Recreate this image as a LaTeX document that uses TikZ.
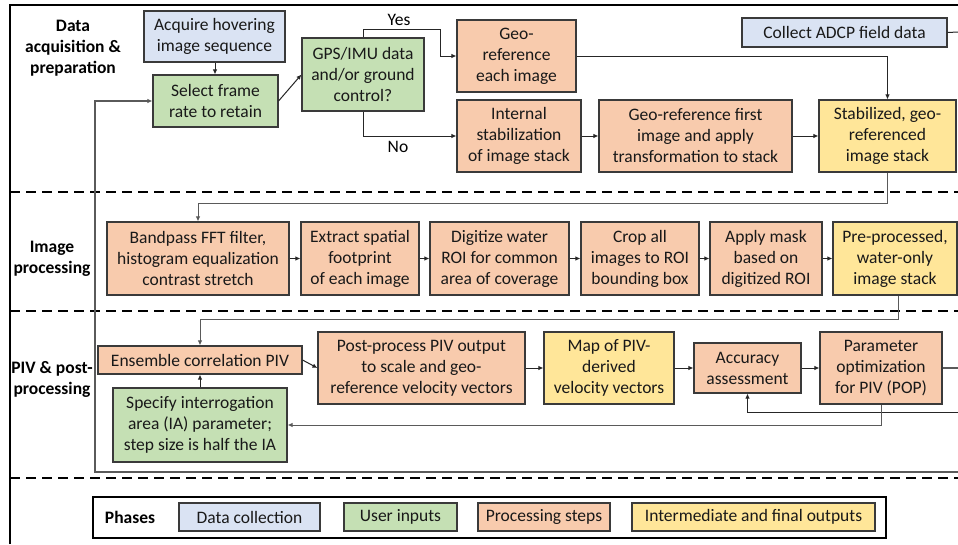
\documentclass[tikz,border=0pt]{standalone}
\usepackage{fontspec}
\setmainfont{Carlito}
\usetikzlibrary{arrows.meta}
\definecolor{cblue}{HTML}{DAE3F3}
\definecolor{cgreen}{HTML}{C5E0B4}
\definecolor{corange}{HTML}{F8CBAD}
\definecolor{cyellow}{HTML}{FFE699}
\definecolor{cedge}{HTML}{3A3A3A}
\definecolor{cline}{HTML}{5A5A5A}
\newcommand\mfnt{\fontsize{17.5}{21}\selectfont}
\newcommand\boxnode[7]{\node[pbox, fill=#6, minimum width={(#4-#2)*1pt}, minimum height={(#5-#3)*1pt}] (#1) at ({(#2+#4)/2},{(#3+#5)/2}) {#7};}
\begin{document}
\begin{tikzpicture}[x=1pt,y=-1pt,
  pbox/.style={draw=cedge, line width=1.1pt, inner sep=0pt, align=center, font=\mfnt, text=black!90},
  sect/.style={align=center, font=\mfnt\bfseries, inner sep=0pt},
  lbl/.style={font=\mfnt, inner sep=0pt},
  arr/.style={draw=black!85, line width=1pt, -{Latex[length=5pt,width=4.5pt]}},
  ln/.style={draw=black!85, line width=1pt},
  gln/.style={draw=cline, line width=1.3pt},
  sep/.style={line width=2.3pt, dash pattern=on 10pt off 6pt}]
\useasboundingbox (0,0) rectangle (958,544);
\fill[white] (0,0) rectangle (958,544);
% outer frame
\draw[line width=1.5pt] (10,544) -- (10,5) -- (958,5);
% separators
\draw[sep] (10,192) -- (958,192);
\draw[sep] (10,311) -- (958,311);
\draw[sep] (10,478) -- (958,478);
% section labels
\node[sect] (s1) at (73,48) {Data\\acquisition \&\\preparation};
\node[sect] (s2) at (52,259) {Image\\processing};
\node[sect] (s3) at (52,379) {PIV \& post-\\processing};
% row 1
\boxnode{acq}{144}{11}{285}{62}{cblue}{Acquire hovering\\image sequence}
\boxnode{sel}{153}{75}{278}{127}{cgreen}{Select frame\\rate to retain}
\boxnode{gps}{302}{38}{424}{111}{cgreen}{GPS/IMU data\\and/or ground\\control?}
\boxnode{geoa}{457}{20}{576}{92}{corange}{Geo-\\reference\\each image}
\boxnode{intl}{457}{100}{581}{172}{corange}{Internal\\stabilization\\of image stack}
\boxnode{geob}{599}{100}{792}{172}{corange}{Geo-reference first\\image and apply\\transformation to stack}
\boxnode{stab}{819}{100}{956}{172}{cyellow}{Stabilized, geo-\\referenced\\image stack}
\boxnode{adcp}{742}{18}{947}{47}{cblue}{Collect ADCP field data}
% row 2
\boxnode{band}{107}{222}{289}{295}{corange}{Bandpass FFT filter,\\histogram equalization\\contrast stretch}
\boxnode{extr}{301}{222}{419}{295}{corange}{Extract spatial\\footprint\\of each image}
\boxnode{digi}{430}{222}{569}{295}{corange}{Digitize water\\ROI for common\\area of coverage}
\boxnode{crop}{581}{222}{699}{295}{corange}{Crop all\\images to ROI\\bounding box}
\boxnode{mask}{710}{222}{822}{295}{corange}{Apply mask\\based on\\digitized ROI}
\boxnode{prep}{833}{222}{957}{295}{cyellow}{Pre-processed,\\water-only\\image stack}
% row 3
\boxnode{ens}{98}{346}{302}{374}{corange}{Ensemble correlation PIV}
\boxnode{spec}{113}{388}{287}{462}{cgreen}{Specify interrogation\\area (IA) parameter;\\step size is half the IA}
\boxnode{post}{318}{332}{525}{404}{corange}{Post-process PIV output\\to scale and geo-\\reference velocity vectors}
\boxnode{map}{544}{332}{674}{404}{cyellow}{Map of PIV-\\derived\\velocity vectors}
\boxnode{acc}{694}{343}{801}{393}{corange}{Accuracy\\assessment}
\boxnode{par}{820}{332}{942}{404}{corange}{Parameter\\optimization\\for PIV (POP)}
% coordinates
\coordinate (y1) at (440,29);
\coordinate (c1) at (887,203);
\coordinate (c2) at (898,319);
\coordinate (e1) at (958,32);
\coordinate (e2) at (958,368);
\coordinate (e3) at (958,412);
\coordinate (e4) at (958,472);
\coordinate (g1) at (95,472);
\coordinate (g2) at (95,101);
% connectors row 1
\draw[arr] (acq.south -| 215,0) -- (sel.north -| 215,0);
\draw[arr] (sel.east) -- (gps.west);
\draw[arr] (gps.north) |- (y1) |- (geoa.west);
\node[lbl] (yes) at (399,20) {Yes};
\draw[arr] (gps.south) |- (intl.west);
\node[lbl] (no) at (398,147) {No};
\draw[arr] (intl.east) -- (geob.west);
\draw[arr] (geob.east) -- (stab.west);
\draw[arr] (geoa.east) -| (stab.north);
\draw[ln] (adcp.east) -- (e1);
% row 1 -> row 2
\draw[arr,draw=cline] (stab.south -| c1) -- (c1) -| (band.north);
\draw[arr] (band.east) -- (extr.west);
\draw[arr] (extr.east) -- (digi.west);
\draw[arr] (digi.east) -- (crop.west);
\draw[arr] (crop.east) -- (mask.west);
\draw[arr] (mask.east) -- (prep.west);
% row 2 -> row 3
\draw[arr,draw=cline] (prep.south -| c2) -- (c2) -| (ens.north);
\draw[arr] (spec.north) -- (ens.south);
\draw[arr] (ens.east) -- (post.west);
\draw[arr] (post.east) -- (map.west);
\draw[arr] (map.east) -- (acc.west);
\draw[arr] (acc.east) -- (par.west);
\draw[gln] (par.east) -- (e2);
\draw[arr] (e3) -| (acc.south);
\draw[arr,draw=cline] (par.south) |- (spec.east);
\draw[gln,-{Latex[length=5pt,width=4.5pt]}] (e4) -- (g1) -- (g2) -- (sel.west);
% legend
\draw[line width=1.3pt] (93,497) rectangle (886,538);
\node[sect] (ph) at (130,517) {Phases};
\boxnode{l1}{179}{503}{320}{531}{cblue}{Data collection}
\boxnode{l2}{344}{503}{457}{531}{cgreen}{User inputs}
\boxnode{l3}{478}{503}{610}{531}{corange}{Processing steps}
\boxnode{l4}{632}{503}{875}{531}{cyellow}{Intermediate and final outputs}
\end{tikzpicture}
\end{document}
